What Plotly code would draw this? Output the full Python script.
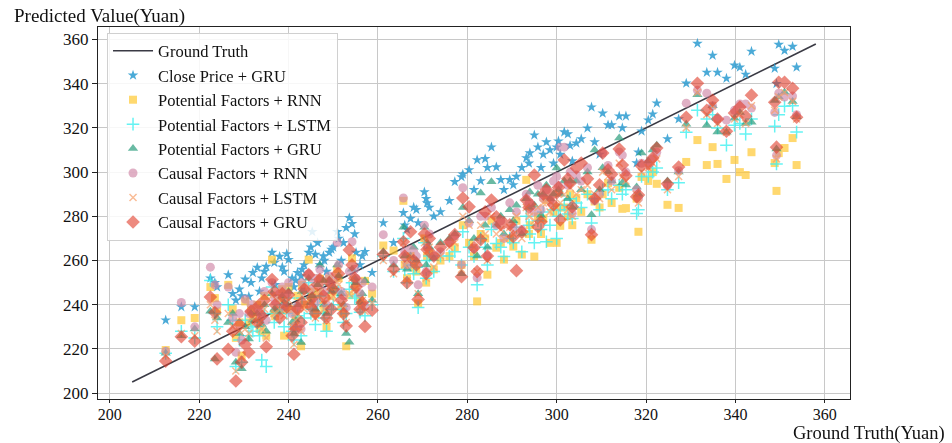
import plotly.graph_objects as go

# Ground-truth closing price of each test sample (x) and model predictions (y)
truth = [212.5,216,219,222.5,223.5,224,226.5,227.5,228.2,229.5,230.3,231.1,232,233,234,235,236.3,237,238,239,240,240.8,241.2,242,242.8,243.5,244.5,245.3,246,247,247.8,248.5,249.1,250,250.9,251.8,252.9,253.6,254.2,255.1,256,257.1,258.7,261.2,
         263.5,265.7,266.5,267.3,268,269,270.4,270.8,271.5,272.5,274,
         276,277.2,278.7,279,280.4,281.5,282.2,283,284.5,285.4,286.5,287.5,288.2,289.5,290.3,291,
         292.2,293.2,294,295,295.8,296.5,297.7,298.5,299.3,300,300.8,301.7,302.5,303.5,
         304.4,305.5,306.9,307.8,308.5,309.6,310.3,311.5,312.3,314,314.7,315.5,317.9,318.3,319,
         320.5,321.5,322.4,324.8,327.3,329,331.5,333.6,334.9,336,338,339.8,341,342.3,343.6,348.8,349.2,349.7,351,352.8,353.7,
         229,231.6,233.5,234.6,236.8,238.6,239.6,241.6,243,245,246.5,248,249.6,251.2,252.3,254.8,256.5,
         266,268.6,271,284,293.8,297,300.4,303]

close_gru = [233,239,239,252,250,248,253.5,245,242,244,251.5,243.7,254.5,256.8,252,257.3,263.6,249,261.8,255,260.4,252,248,254.5,253,258,263.6,273,262.7,258,262,255,263.6,266,273,260,274.8,279.3,276.6,263.6,258,264,254.5,277,
             268,281.6,274,279,284,277,291,288,284,280,282,
             287,295.6,297.8,299,301,292,305.5,296,302,311.3,302.3,296.5,292,296.5,294.2,298,
             302,306.4,308.6,316.7,311.3,302,313.6,310,304,311.3,308,318.1,317.2,305,
             313.1,315,319.9,329.4,313.6,308,326.6,321.3,321.3,325.3,320,325.3,304.1,309,318.5,
             323.5,326.2,331.2,315,324,340.2,358.2,345.1,352.8,345.1,342.4,348.3,347.4,344.2,354.6,346.9,340,357.7,355,356.8,347.4,
             247,250,246,255,259,257,263,251,256,266,268,260,265,270,268,272,262,
             276,283,286,306,304,308,314,312]

pf_rnn = [219.5,233,234,248,243,237,249,238,225,217,241.5,232,235,240,228,226,260.4,234.8,243,226,248,238,230,244,221.2,240,260.4,246,236,251.8,240,230,251.8,246,256,239,221.2,244.3,261,250,243,250.8,245,266.8,
          264.5,287,252,262,257,240.6,270,250,263,256,260,
          262,266,258,276,268,262,241.5,272,253.6,278,265.8,268,260.4,270,266.3,278,
          262.7,296.5,276,261.8,280,272,287.4,268,282,268,275.7,284,280,276,
          288.3,282,290,269.4,286.7,284,290,295,286,292.9,283.4,283.7,288,273,297.8,
          296,300,294.7,285.2,283.8,304.6,314.5,303.2,311.3,303.7,296.9,305.5,300,298.7,309,304.1,291.5,308.6,310.9,315.4,303.2,
          232,238,229,244,236,247,238,235,249,242,245,238,244,252,236,248,240,
          258,255,262,270,272,279,284,290]

pf_lstm = [218,228,225,251,236,230,240,233,212,214,233,226,228,230,215,212,248,236,238,230,243,228,224,235,226,234,250,238,231,244,236,228,249,240,246,238,236,247,250,244,236.6,235,240,262,
           255,270,250,258,254,238.7,268,252,262,255,262,
           262,264,258,273,266,261.8,249,270,258,274,267.7,266,261.8,270,268,275,
           264,280,272,268,278,274,268.5,276,283,270,283,285,281,279,
           286,284,290,277,288,283,292,292,288,294,290,292,281.3,283,298,
           298,300,301.9,292,295.2,318,328,324,326,320,312.2,321.2,322,317.2,324,320.8,303.7,326,329.8,330,318.1,
           224,230,226,236,232,240,236,230,243,236,240,234,238,246,232,243,238,
           256,257,260,266,276,282,280,288]

pf_gru = [218,226,229,237,215.5,234,232,236,214,211,230,224.5,233,236,231,228,245,238,237,241,246,232,227,240,222.9,246,252,244,238,258,251,236,251,248,258,245,227,223,256,250,241,250.8,242,264,
          258,275,256,262,266,245,275,258,266,261,268,
          270,272,254,284,278,270,262,290.6,266,295.6,276,280,272,283,278,285,
          272,288,291,285,290,280.4,294,288,290,301.9,290,296,288,284,
          296,292,300,280.7,310,292,302,300,296,315.4,295.2,294.2,293.3,290,308.6,
          305,310,312.2,296,300,321.7,335,321.2,330,318.1,318,324.4,327,322,322.6,332.4,310.5,334,336.1,332,325,
          227,236,233,240,238,244,240,233,246,241,249,240,246,253,240,252,245,
          262,260,268,276,284,290,292,296]

cf_rnn = [219,241,230,257,249,240,248,234,218.5,224,242.5,236,240,238,235,233,250,241.5,245,239,250,236,230,239.3,229,248,254,252,241,255.9,246,240,253,251,268.1,246,238.8,255,268.5,252,245,239.3,248,271.7,
          260,288.3,258,265,264,249,276,255,272,262,264,
          268,271,258,292.9,277,265.4,252.2,280,262,284,276,278,270,286.1,275,282,
          274,290,286,282,294,283,292,287.4,296,298,311.3,311.3,294,281.3,
          298.7,296,302,274,287,290,308.6,303,296,309.1,307.7,300,292,288,304,
          304,306,309,293.8,300.6,331.2,337,335.7,330,324,323.5,328,330.8,330.8,329,327,307.6,335.7,334,334.4,326,
          236,240,237,246,244,248,245,238,250,247,252,246,250,258,244,256,250,
          264,262,266,280,286,288,294,300]

cf_lstm = [217,227,226,240,233,228,236,230,210,216,229,227,234,233,229,225,244,236,238,235,242,230,222,236,228,238,248,240,234,246,242,233,248,244,250,240,232,245,252,246,239,237,241,260,
           254,268,251,262,258,245,268,252,266,257,262,
           266,268,256,280,276,266,255,276,260,280,272,274,270,275,272,280,
           270,284,280,278,284,278,286,282,285,284,286,290,283,280,
           290,292,294,272,290,288,300,298,292,304,298,296,290,286,300,
           302,304,306,292,298,320,336,326,330,322,318,324,326,322,330,328,306,334,336,332,324,
           228,234,232,238,236,242,238,233,244,240,246,238,243,249,238,247,242,
           258,258,264,272,280,286,290,293]

cf_gru = [214.5,225.5,223.5,243.5,236.5,215.5,219.8,228,205.5,214,222,218.5,237,232,235,221,251.4,240,234,243,244.5,226,217.6,238,232,247,253.6,243,236,251.4,244,234,250,247,254,242,230.4,264.8,258,248,238,230.2,237.5,262.7,
          256,268.5,250,273,260,242.4,272,254,270,262,266,
          268.5,271.7,252.7,288.3,284.3,265.8,255,269.4,262,287.4,279.8,276.2,277,276.2,270.8,255.4,
          273,287.4,285.6,298.7,275.3,277.5,292,289,285.2,290.6,278.4,305.5,297,284.3,
          301.9,304.1,297,271.7,288,294.2,308.6,301,299,310.4,303.2,298.4,288.8,289.7,302.8,
          303.7,306.4,310.9,294.7,302.3,324.8,340.2,328,332.5,324,318.5,326.7,329.4,325.3,334.8,331.6,311.3,340.6,340.6,337.9,324.8,
          231,237,240,242,246,245,239,229,241,239,249,243,238,254,236,252,241,
          262,258,265,282,284,290,293,295]

line_x = [205, 358]
line_y = [205, 358]
x_ticks = [200, 220, 240, 260, 280, 300, 320, 340, 360]
y_ticks = [200, 220, 240, 260, 280, 300, 320, 340, 360]

SERIF = "Liberation Serif, Times New Roman, serif"

fig = go.Figure()
fig.add_trace(go.Scatter(x=line_x, y=line_y, mode="lines", name="Ground Truth",
                         line=dict(color="#3a3a44", width=1.6)))

series = [
    ("Close Price + GRU", close_gru, "star", "#2b9bd0", 8, 0.85, None),
    ("Potential Factors + RNN", pf_rnn, "square", "#ffc832", 8, 0.7, None),
    ("Potential Factors + LSTM", pf_lstm, "cross-thin", "#3ff0f0", 9, 0.8, 1.5),
    ("Potential Factors + GRU", pf_gru, "triangle-up", "#2a9d7c", 9, 0.7, None),
    ("Causal Factors + RNN", cf_rnn, "circle", "#cf86a6", 9, 0.65, None),
    ("Causal Factors + LSTM", cf_lstm, "x-thin", "#f7a06a", 7, 0.7, 1.5),
    ("Causal Factors + GRU", cf_gru, "diamond", "#e03c2a", 10.5, 0.6, None),
]
for name, vals, sym, col, size, op, lw in series:
    if lw:
        marker = dict(symbol=sym, size=size, color=col, line=dict(color=col, width=lw))
    else:
        marker = dict(symbol=sym, size=size, color=col, line=dict(width=0))
    fig.add_trace(go.Scatter(x=truth, y=vals, mode="markers", name=name,
                             marker=marker, opacity=op))

axis_common = dict(showgrid=True, gridcolor="#c8c8c8", gridwidth=1,
                   showline=True, linecolor="#222", linewidth=1, mirror=True,
                   ticks="outside", tickcolor="#222", zeroline=False)
fig.update_xaxes(range=[197.35, 365.65], tickvals=x_ticks, ticklen=3, ticklabelstandoff=-2,
                 tickfont=dict(family=SERIF, size=16, color="#111"), **axis_common)
fig.update_yaxes(range=[197.35, 365.65], tickvals=y_ticks, ticklen=5,
                 tickfont=dict(family=SERIF, size=17, color="#111"), **axis_common)

fig.update_layout(
    width=952, height=443,
    margin=dict(l=98, r=102, t=27, b=44),
    paper_bgcolor="white", plot_bgcolor="white",
    font=dict(family=SERIF, color="#111"),
    legend=dict(x=0.012, y=0.985, xanchor="left", yanchor="top", itemwidth=40,
                bgcolor="rgba(255,255,255,0.85)", bordercolor="#d0d0d0", borderwidth=1,
                font=dict(family=SERIF, size=16.5, color="#111"), tracegroupgap=0),
    annotations=[
        dict(text="Predicted Value(Yuan)", xref="paper", yref="paper", x=-0.1144, y=1.0296,
             xanchor="left", yanchor="middle", showarrow=False,
             font=dict(family=SERIF, size=19, color="#111")),
        dict(text="Ground Truth(Yuan)", xref="paper", yref="paper", x=1.1277, y=0.0,
             yshift=-46, xanchor="right", yanchor="bottom", showarrow=False, borderpad=0,
             font=dict(family=SERIF, size=18.5, color="#111")),
    ],
)
fig.write_html("out.html")
